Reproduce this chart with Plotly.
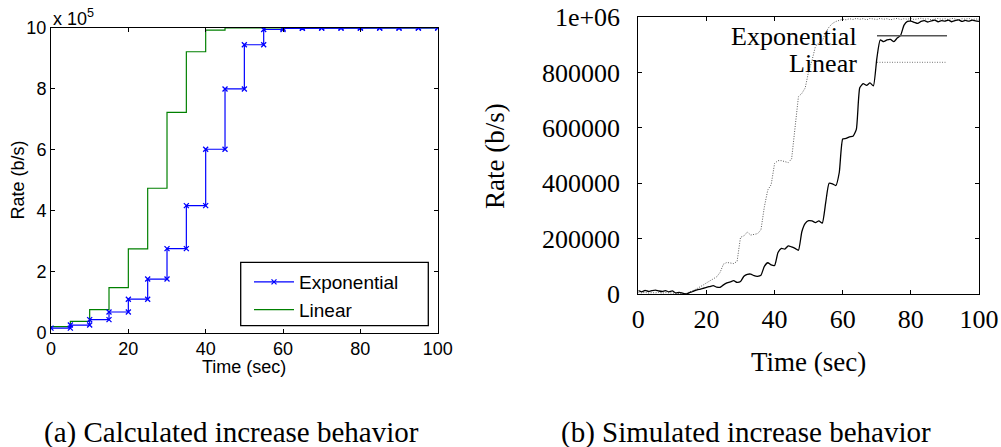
import plotly.graph_objects as go

# ---------------- data: (a) calculated ----------------
calc_time = [0, 5, 10, 15, 20, 25, 30, 35, 40, 45, 50, 55, 60, 65, 70, 75, 80, 85, 90, 95, 100]
calc_exponential = [15000, 25000, 43000, 68000, 110000, 176000, 276000, 417000, 602000, 800000,
                    945000, 995000, 999000, 1000000, 1000000, 1000000, 1000000, 1000000, 1000000,
                    1000000, 1000000]
calc_linear = [20000, 37000, 76000, 148000, 275000, 474000, 723000, 922000, 993000, 1000000,
               1000000, 1000000, 1000000, 1000000, 1000000, 1000000, 1000000, 1000000, 1000000,
               1000000, 1000000]

# ---------------- data: (b) simulated ----------------
sim_time = list(range(0, 101))
sim_exponential = [
    12000, 8000, 13000, 9000, 12000, 14000, 11000, 9000, 12000, 8000,
    11000, 4000, 6000, 3000, 0, 5000, 9000, 14000, 17000, 20000,
    24000, 27000, 30000, 25000, 24000, 33000, 40000, 44000, 48000, 42000,
    45000, 64000, 71000, 72000, 66000, 64000, 68000, 100000, 113000, 105000,
    103000, 150000, 165000, 162000, 174000, 170000, 165000, 158000, 225000, 255000,
    265000, 264000, 258000, 264000, 256000, 330000, 400000, 398000, 392000, 440000,
    560000, 562000, 568000, 570000, 595000, 745000, 760000, 754000, 763000, 752000,
    850000, 918000, 912000, 918000, 920000, 912000, 925000, 935000, 972000, 985000,
    986000, 982000, 978000, 985000, 988000, 983000, 987000, 990000, 984000, 988000,
    986000, 990000, 984000, 988000, 991000, 985000, 989000, 986000, 990000, 987000,
    985000]
sim_linear = [
    5000, 4000, 6000, 3000, 5000, 4000, 6000, 3000, 5000, 4000,
    3000, 2000, 3000, 1000, 2000, 6000, 12000, 18000, 24000, 32000,
    40000, 48000, 57000, 62000, 78000, 108000, 114000, 112000, 110000, 118000,
    205000, 210000, 224000, 213000, 215000, 218000, 232000, 315000, 376000, 395000,
    472000, 482000, 482000, 478000, 475000, 488000, 593000, 713000, 725000, 745000,
    805000, 845000, 895000, 908000, 915000, 945000, 965000, 978000, 985000, 990000,
    993000, 991000, 995000, 992000, 996000, 993000, 995000, 991000, 996000, 994000,
    992000, 996000, 993000, 995000, 991000, 994000, 996000, 992000, 995000, 993000,
    996000, 992000, 994000, 997000, 993000, 995000, 991000, 994000, 996000, 993000,
    995000, 992000, 996000, 994000, 991000, 995000, 993000, 996000, 992000, 994000,
    993000]

left_yticks = [0, 200000, 400000, 600000, 800000, 1000000]
left_yticktext = ["0", "2", "4", "6", "8", "10"]
right_yticktext = ["0", "200000", "400000", "600000", "800000", "1e+06"]
xticks = [0, 20, 40, 60, 80, 100]


def stairs(t, v):
    xs, ys = [], []
    for i in range(len(t) - 1):
        xs += [t[i], t[i + 1]]
        ys += [v[i], v[i]]
    xs.append(t[-1])
    ys.append(v[-1])
    return xs, ys


W, H = 1001, 447


def px(x):
    return x / W


def py(y):
    return 1 - y / H


fig = go.Figure()

ex, ey = stairs(calc_time, calc_exponential)
lx, ly = stairs(calc_time, calc_linear)

fig.add_trace(go.Scatter(x=lx, y=ly, mode="lines", name="Linear",
                         line=dict(color="rgb(0,128,0)", width=1.2),
                         xaxis="x", yaxis="y", legend="legend"))
fig.add_trace(go.Scatter(x=ex, y=ey, mode="lines+markers", name="Exponential",
                         line=dict(color="rgb(0,0,255)", width=1.2),
                         marker=dict(symbol="x-thin", size=5, line=dict(color="rgb(0,0,255)", width=1.3)),
                         xaxis="x", yaxis="y", legend="legend"))

fig.add_trace(go.Scatter(x=sim_time, y=sim_linear, mode="lines", name="Linear",
                         line=dict(color="rgb(90,90,90)", width=1, dash="1px,1.5px"),
                         xaxis="x2", yaxis="y2", showlegend=False))
fig.add_trace(go.Scatter(x=sim_time, y=sim_exponential, mode="lines", name="Exponential",
                         line=dict(color="black", width=1.3, shape="spline", smoothing=0.5),
                         xaxis="x2", yaxis="y2", showlegend=False))

sans = "Liberation Sans, Arial, sans-serif"
serif = "Liberation Serif, Times New Roman, serif"

axis_common = dict(showline=True, linecolor="black", linewidth=1, mirror="ticks",
                   ticks="inside", tickcolor="black", showgrid=False, zeroline=False,
                   automargin=False)

fig.update_layout(
    width=W, height=H, margin=dict(l=0, r=0, t=0, b=0, autoexpand=False),
    paper_bgcolor="white", plot_bgcolor="white",
    xaxis=dict(domain=[px(51), px(437.7)], range=[0, 100], tickvals=xticks, ticklen=4,
               tickfont=dict(family=sans, size=18, color="black"), anchor="y", **axis_common),
    yaxis=dict(domain=[py(332.7), py(28)], range=[0, 1000000], tickvals=left_yticks,
               ticktext=left_yticktext, ticklen=4, ticklabelstandoff=0,
               tickfont=dict(family=sans, size=18, color="black"), anchor="x", **axis_common),
    xaxis2=dict(domain=[px(638.3), px(979)], range=[0, 100], tickvals=xticks, ticklen=4,
                ticklabelstandoff=2,
                tickfont=dict(family=serif, size=26, color="black"), anchor="y2", **axis_common),
    yaxis2=dict(domain=[py(294), py(17.3)], range=[0, 1000000], tickvals=left_yticks,
                ticktext=right_yticktext, ticklen=4, ticklabelstandoff=12,
                tickfont=dict(family=serif, size=26, color="black"), anchor="x2", **axis_common),
    legend=dict(x=px(249), y=py(263), xanchor="left", yanchor="top",
                bgcolor="rgba(0,0,0,0)", borderwidth=0, traceorder="reversed",
                font=dict(family=sans, size=19, color="black"), itemwidth=40),
    showlegend=True,
)

shapes = [
    dict(type="rect", xref="paper", yref="paper", x0=px(240.7), x1=px(428.3),
         y0=py(325.7), y1=py(262.3), line=dict(color="black", width=1.3)),
    dict(type="line", xref="paper", yref="paper", x0=px(877), x1=px(947),
         y0=py(35.7), y1=py(35.7), line=dict(color="#555", width=1.6)),
    dict(type="line", xref="paper", yref="paper", x0=px(877), x1=px(947),
         y0=py(62.3), y1=py(62.3), line=dict(color="#777", width=1, dash="1px,1.5px")),
]
fig.update_layout(shapes=shapes)

annotations = [
    dict(text="x 10<sup>5</sup>", x=px(51), y=py(18), xanchor="left", yanchor="middle",
         font=dict(family=sans, size=18, color="black")),
    dict(text="Time (sec)", x=px(244), y=py(367), xanchor="center", yanchor="middle",
         font=dict(family=sans, size=18, color="black")),
    dict(text="Rate (b/s)", x=px(17.5), y=py(180), xanchor="center", yanchor="middle",
         textangle=-90, font=dict(family=sans, size=18, color="black")),
    dict(text="Exponential", x=px(859), y=py(36), xanchor="right", yanchor="middle",
         font=dict(family=serif, size=26, color="black")),
    dict(text="Linear", x=px(859), y=py(64), xanchor="right", yanchor="middle",
         font=dict(family=serif, size=26, color="black")),
    dict(text="Time (sec)", x=px(808.6), y=py(362), xanchor="center", yanchor="middle",
         font=dict(family=serif, size=27, color="black")),
    dict(text="Rate (b/s)", x=px(495), y=py(156), xanchor="center", yanchor="middle",
         textangle=-90, font=dict(family=serif, size=27, color="black")),
    dict(text="(a) Calculated increase behavior", x=px(231), y=py(432), xanchor="center",
         yanchor="middle", font=dict(family=serif, size=29, color="black")),
    dict(text="(b) Simulated increase behavior", x=px(745.8), y=py(432), xanchor="center",
         yanchor="middle", font=dict(family=serif, size=29, color="black")),
]
for a in annotations:
    a.update(xref="paper", yref="paper", showarrow=False)
fig.update_layout(annotations=annotations)

fig.write_html("out.html")
